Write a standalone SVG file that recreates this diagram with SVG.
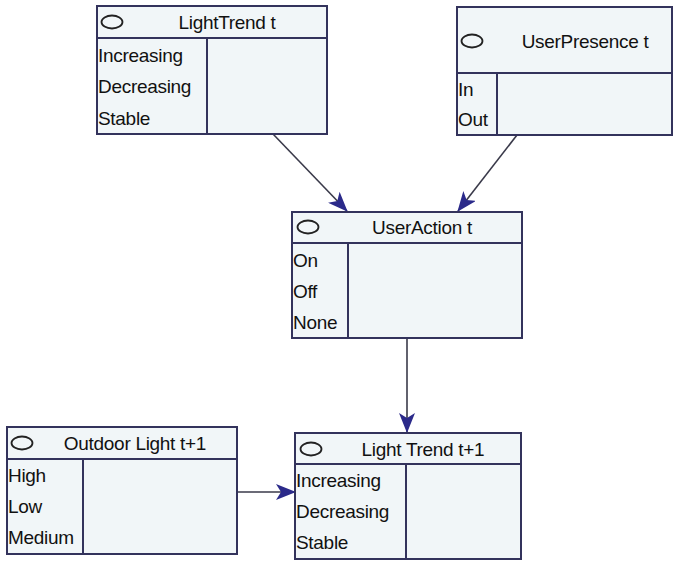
<svg xmlns="http://www.w3.org/2000/svg" width="679" height="561" viewBox="0 0 679 561">
<style>
.box{fill:#f1f6f8;stroke:#33335c;stroke-width:2}
.ln{stroke:#33335c;stroke-width:2;fill:none}
.el{fill:none;stroke:#222;stroke-width:1.8}
.t{font-family:"Liberation Sans",Arial,sans-serif;font-size:19px;fill:#111;letter-spacing:-0.3px}
.h{text-anchor:middle}
.c{stroke:#3a3a4a;stroke-width:1.6;fill:none}
</style>
<defs>
<marker id="ah" markerWidth="20" markerHeight="16" refX="19" refY="8" orient="auto" markerUnits="userSpaceOnUse">
<path d="M0,0 L20,8 L0,16 L5,8 Z" fill="#2b2a8a"/>
</marker>
</defs>
<rect width="679" height="561" fill="#ffffff"/>
<g id="connectors">
<line class="c" x1="273" y1="134" x2="347" y2="211" marker-end="url(#ah)"/>
<line class="c" x1="517" y1="135" x2="458" y2="211" marker-end="url(#ah)"/>
<line class="c" x1="407" y1="338" x2="407" y2="432" marker-end="url(#ah)"/>
<line class="c" x1="237" y1="492" x2="295" y2="492" marker-end="url(#ah)"/>
</g>
<g id="node-lighttrend-t">
<rect class="box" x="97" y="6" width="230" height="128"/>
<line class="ln" x1="97" y1="38" x2="327" y2="38"/>
<line class="ln" x1="207" y1="38" x2="207" y2="134"/>
<ellipse class="el" cx="112" cy="22" rx="10.5" ry="6.5"/>
<text class="t h" x="227" y="29">LightTrend t</text>
<text class="t" x="98" y="62">Increasing</text>
<text class="t" x="98" y="93">Decreasing</text>
<text class="t" x="98" y="125">Stable</text>
</g>
<g id="node-userpresence-t">
<rect class="box" x="457" y="7" width="215" height="128"/>
<line class="ln" x1="457" y1="73" x2="672" y2="73"/>
<line class="ln" x1="497" y1="73" x2="497" y2="135"/>
<ellipse class="el" cx="472" cy="41" rx="10.5" ry="6.5"/>
<text class="t h" x="585" y="48">UserPresence t</text>
<text class="t" x="458" y="96">In</text>
<text class="t" x="458" y="126">Out</text>
</g>
<g id="node-useraction-t">
<rect class="box" x="292" y="212" width="230" height="126"/>
<line class="ln" x1="292" y1="243" x2="522" y2="243"/>
<line class="ln" x1="348" y1="243" x2="348" y2="338"/>
<ellipse class="el" cx="308" cy="227" rx="10.5" ry="6.5"/>
<text class="t h" x="422" y="234">UserAction t</text>
<text class="t" x="293" y="267">On</text>
<text class="t" x="293" y="298">Off</text>
<text class="t" x="293" y="329">None</text>
</g>
<g id="node-outdoorlight-t1">
<rect class="box" x="7" y="427" width="230" height="127"/>
<line class="ln" x1="7" y1="459" x2="237" y2="459"/>
<line class="ln" x1="83" y1="459" x2="83" y2="554"/>
<ellipse class="el" cx="22" cy="443" rx="10.5" ry="6.5"/>
<text class="t h" x="135" y="450">Outdoor Light t+1</text>
<text class="t" x="8" y="482">High</text>
<text class="t" x="8" y="513">Low</text>
<text class="t" x="8" y="544">Medium</text>
</g>
<g id="node-lighttrend-t1">
<rect class="box" x="295" y="433" width="226" height="126"/>
<line class="ln" x1="295" y1="464" x2="521" y2="464"/>
<line class="ln" x1="406" y1="464" x2="406" y2="559"/>
<ellipse class="el" cx="311" cy="449" rx="10.5" ry="6.5"/>
<text class="t h" x="423" y="456">Light Trend t+1</text>
<text class="t" x="296" y="487">Increasing</text>
<text class="t" x="296" y="518">Decreasing</text>
<text class="t" x="296" y="549">Stable</text>
</g>
</svg>
